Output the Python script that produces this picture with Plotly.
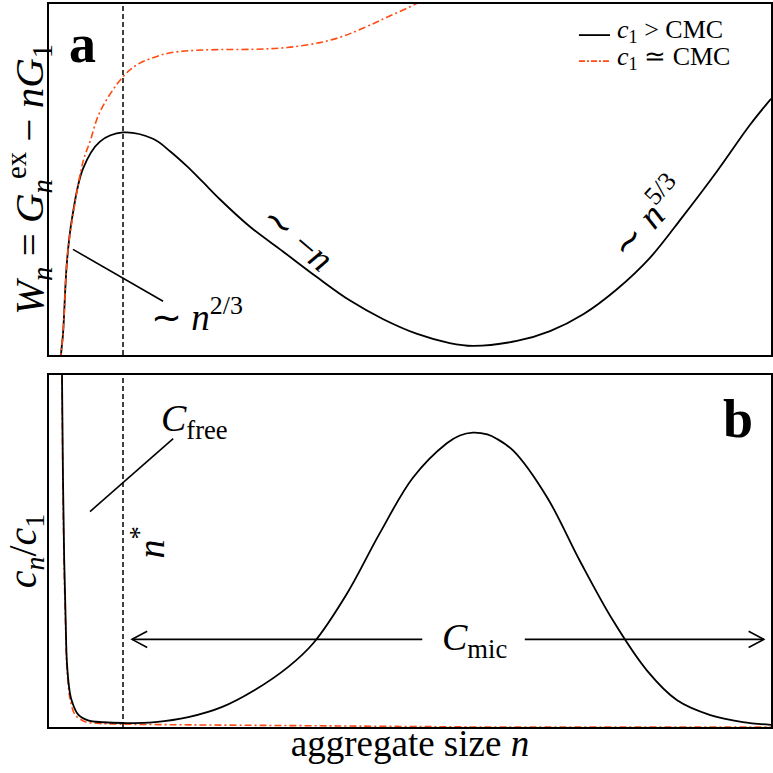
import plotly.graph_objects as go

FONT = "Liberation Serif"
N_STAR = 10.25

# ---- panel a : W_n = G_n^ex - n G_1 (arbitrary units) ----
wa_x = [1.5, 1.66, 1.94, 2.49, 3.19, 4.71, 7.06, 10.25, 14.4, 16.8, 19.1, 21.3, 23.7,
        27.8, 32.4, 37.1, 41.7, 46.3, 51.0, 55.5, 58.7, 64.8, 69.4, 74.0, 78.7, 83.2,
        87.8, 92.5, 97.1, 100.0]
wa_above = [-10, 0, 6.0, 26.7, 38.9, 53.1, 60.8, 63.4, 61.6, 58.0, 53.8, 49.3, 44.3,
            36.6, 29.5, 22.2, 15.5, 10.2, 6.0, 3.4, 2.6, 4.0, 6.8, 11.6, 18.8, 27.6,
            39.5, 52.3, 65.6, 73.0]

wo_x = [1.5, 1.66, 1.94, 2.49, 2.91, 4.71, 5.68, 7.06, 10.25, 12.2, 14.4, 16.8, 21.3,
        28.3, 33.0, 37.5, 40.3, 42.1, 44.9, 46.8, 51.0, 53.5]
wo_near = [-10, 0, 6.0, 26.7, 34.4, 55.1, 60.8, 69.3, 79.3, 82.7, 84.7, 86.1, 86.9,
           87.1, 87.6, 89.0, 90.5, 91.9, 94.4, 96.2, 100.2, 103.0]

# ---- panel b : c_n / c_1 ----
cb_x = [1.73, 1.80, 1.94, 2.10, 2.30, 2.49, 2.91, 3.19, 4.02, 5.40, 7.5, 10.25, 14.7,
        19.3, 24.0, 28.5, 33.1, 36.6, 41.3, 45.8, 50.4, 55.1, 56.9, 58.7, 60.7, 62.0,
        64.3, 69.0, 73.5, 78.1, 82.8, 87.0, 91.6, 96.1, 100.0]
cb_above = [112, 100, 70, 48, 31, 18, 9.5, 7.2, 3.6, 1.9, 1.35, 1.13, 1.4,
            2.8, 5.7, 10.5, 17.0, 23.8, 38.0, 55.0, 70.8, 80.6, 82.8, 83.6, 83.1, 81.9,
            78.5, 65.2, 47.3, 30.3, 16.1, 7.6, 3.4, 1.4, 0.6]

co_x = [1.70, 1.78, 1.94, 2.10, 2.30, 2.49, 2.91, 3.6, 5.0, 7.0, 10.25, 20, 30, 40, 53, 60, 100]
co_near = [112, 100, 66, 45, 28, 16.5, 8, 3.5, 1.5, 1.0, 0.8, 0.6, 0.45, 0.3, 0.1, 0, 0]

legend_labels = ["<i>c</i><sub>1</sub> &gt; CMC", "<i>c</i><sub>1</sub> ≃ CMC"]

ORANGE = "#FF4A12"
DASHDOT = "7px,3px,2px,3px"
fig = go.Figure()
fig.add_trace(go.Scatter(x=wa_x, y=wa_above, mode="lines", name=legend_labels[0],
                         line=dict(color="black", width=1.8, shape="spline", smoothing=1.0),
                         xaxis="x", yaxis="y"))
fig.add_trace(go.Scatter(x=wo_x, y=wo_near, mode="lines", name=legend_labels[1],
                         line=dict(color=ORANGE, width=1.6, shape="spline", smoothing=1.0,
                                   dash=DASHDOT),
                         xaxis="x", yaxis="y"))
fig.add_trace(go.Scatter(x=co_x, y=co_near, mode="lines",
                         line=dict(color=ORANGE, width=1.6, shape="spline", smoothing=0.8,
                                   dash=DASHDOT),
                         xaxis="x2", yaxis="y2"))
fig.add_trace(go.Scatter(x=cb_x, y=cb_above, mode="lines",
                         line=dict(color="black", width=1.8, shape="spline", smoothing=1.0),
                         xaxis="x2", yaxis="y2"))

frame = dict(showline=True, mirror=True, linecolor="black", linewidth=2,
             showgrid=False, zeroline=False, ticks="", showticklabels=False)

shapes = [
    dict(type="line", xref="x", yref="y domain", x0=N_STAR, x1=N_STAR, y0=0, y1=1,
         line=dict(color="black", width=1.5, dash="5px,3px")),
    dict(type="line", xref="x2", yref="y2 domain", x0=N_STAR, x1=N_STAR, y0=0, y1=1,
         line=dict(color="black", width=1.5, dash="5px,3px")),
    # label pointer n^{2/3}
    dict(type="line", xref="x", yref="y", x0=3.32, y0=30.1, x1=15.8, y1=15.3,
         line=dict(color="black", width=1.6)),
    # label pointer C_free
    dict(type="line", xref="x2", yref="y2", x0=5.68, y0=61.2, x1=17.2, y1=81.9,
         line=dict(color="black", width=1.6)),
    # C_mic double arrow
    dict(type="line", xref="x2", yref="y2", x0=11.5, y0=24.9, x1=51.7, y1=24.9,
         line=dict(color="black", width=1.6)),
    dict(type="line", xref="x2", yref="y2", x0=65.9, y0=24.9, x1=99.0, y1=24.9,
         line=dict(color="black", width=1.6)),
    dict(type="path", xref="x2", yref="y2",
         path="M 13.6,27.2 L 11.5,24.9 L 13.6,22.6",
         line=dict(color="black", width=1.6)),
    dict(type="path", xref="x2", yref="y2",
         path="M 96.9,27.2 L 99.0,24.9 L 96.9,22.6",
         line=dict(color="black", width=1.6)),
    # legend keys
    dict(type="line", xref="paper", yref="paper", x0=0.734, x1=0.777, y0=0.957, y1=0.957,
         line=dict(color="black", width=1.8)),
    dict(type="line", xref="paper", yref="paper", x0=0.734, x1=0.777, y0=0.921, y1=0.921,
         line=dict(color=ORANGE, width=1.6, dash="6px,2px,2px,2px")),
]

def ann(x, y, text, size=28, ref="", angle=0, bold=False):
    return dict(x=x, y=y, xref="x" + ref, yref="y" + ref, text=("<b>%s</b>" % text if bold else text),
                showarrow=False, textangle=angle, font=dict(family=FONT, size=size, color="black"),
                xanchor="center", yanchor="middle")

annotations = [
    ann(4.7, 88.5, "a", size=54, bold=True),
    ann(20.5, 11.6, "∼ <i>n</i><sup>2/3</sup>", size=37),
    ann(34.5, 33.2, "∼ −<i>n</i>", size=37, angle=40),
    ann(82.8, 39.5, "∼ <i>n</i><sup>5/3</sup>", size=37, angle=-48),
    ann(20.2, 87.0, "<i>C</i><sub>free</sub>", size=38, ref="2"),
    ann(13.7, 52.4, "<i>n</i><sup>*</sup>", size=38, ref="2", angle=-90),
    ann(58.9, 24.6, "<i>C</i><sub>mic</sub>", size=38, ref="2"),
    ann(95.4, 87.5, "b", size=54, ref="2", bold=True),
    dict(x=0.784, y=0.962, xref="paper", yref="paper", text=legend_labels[0], showarrow=False,
         xanchor="left", yanchor="middle", font=dict(family=FONT, size=26, color="black")),
    dict(x=0.784, y=0.926, xref="paper", yref="paper", text=legend_labels[1], showarrow=False,
         xanchor="left", yanchor="middle", font=dict(family=FONT, size=26, color="black")),
]

fig.update_layout(
    width=773, height=773,
    margin=dict(l=49, r=2, t=2, b=46),
    paper_bgcolor="white", plot_bgcolor="white",
    font=dict(family=FONT, color="black"),
    showlegend=False,
    xaxis=dict(domain=[0, 1], range=[0, 100], anchor="y", **frame),
    yaxis=dict(domain=[0.5145, 1], range=[0, 100], anchor="x", automargin=False,
               title=dict(text="<i>W</i><sub><i>n</i></sub> = <i>G</i><sub><i>n</i></sub><sup>ex</sup> − <i>nG</i><sub>1</sub>",
                          font=dict(size=41), standoff=2), **frame),
    xaxis2=dict(domain=[0, 1], range=[0, 100], anchor="y2", automargin=False,
                title=dict(text="aggregate size <i>n</i>", font=dict(size=37), standoff=2), **frame),
    yaxis2=dict(domain=[0, 0.4869], range=[0, 100], anchor="x2", automargin=False,
                title=dict(text="<i>c</i><sub><i>n</i></sub>/<i>c</i><sub>1</sub>",
                           font=dict(size=40), standoff=2), **frame),
    shapes=shapes,
    annotations=annotations,
)

fig.write_html("out.html")
